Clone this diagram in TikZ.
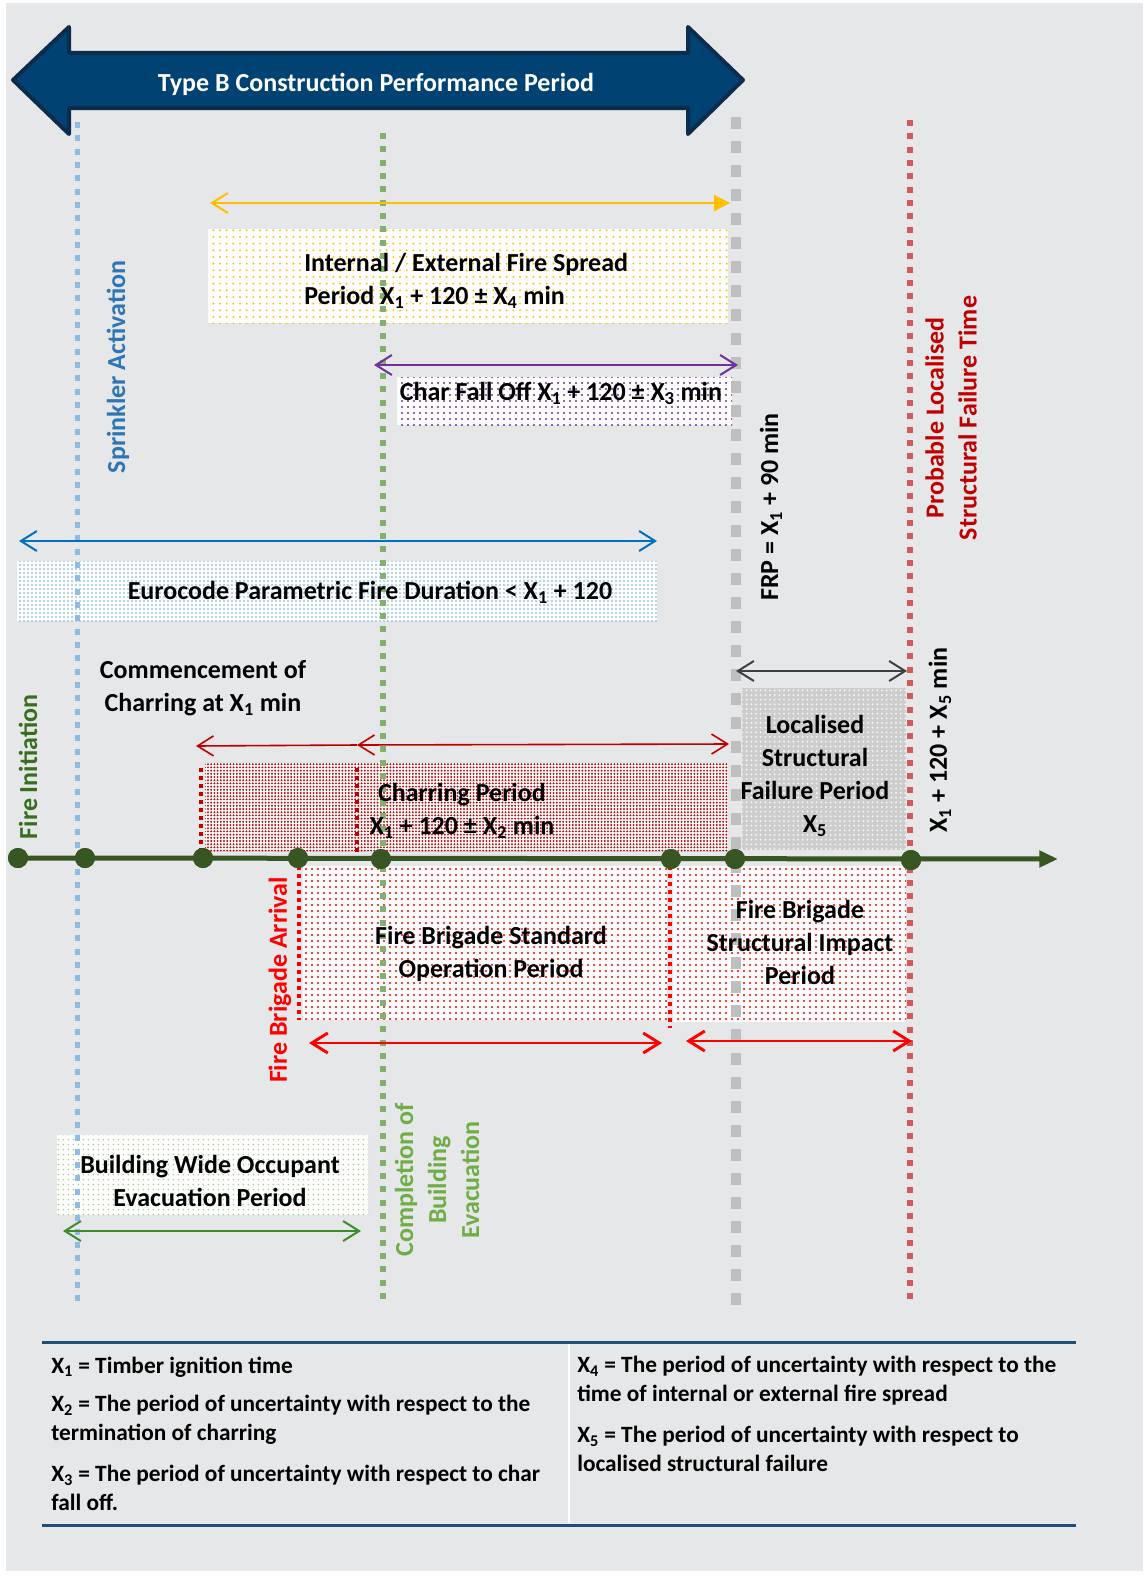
\documentclass[tikz,border=0pt]{standalone}
\usepackage{fontspec}
\setmainfont{Carlito}
\usetikzlibrary{arrows.meta,patterns.meta}
\definecolor{bggrey}{RGB}{230,231,233}
\definecolor{bandblue}{RGB}{0,66,114}
\definecolor{banddark}{RGB}{12,44,78}
\definecolor{sprblue}{RGB}{143,188,224}
\definecolor{evacgreen}{RGB}{130,176,110}
\definecolor{frpgrey}{RGB}{191,191,191}
\definecolor{failred}{RGB}{210,90,90}
\definecolor{spreadyel}{RGB}{255,192,0}
\definecolor{charpurp}{RGB}{112,48,160}
\definecolor{euroblue}{RGB}{0,112,192}
\definecolor{eurodots}{RGB}{157,195,230}
\definecolor{charred}{RGB}{192,0,0}
\definecolor{fbred}{RGB}{255,0,0}
\definecolor{lineGreen}{RGB}{55,86,35}
\definecolor{occgreen}{RGB}{60,140,44}
\definecolor{occdots}{RGB}{169,209,142}
\definecolor{legblue}{RGB}{31,78,121}
\newcommand{\xs}[1]{X\textsubscript{#1}}
\begin{document}
\begin{tikzpicture}[x=0.75pt,y=0.75pt,yscale=-1,xscale=1,
  font=\bfseries\fontsize{19.5}{24.75}\selectfont,
  dblbarb/.style={arrows={Straight Barb[length=12pt,width=15pt]-Straight Barb[length=12pt,width=15pt]}},
  dotbox/.style 2 args={fill=white,postaction={pattern={Dots[distance=#2,radius=0.8pt]},pattern color=#1}},
  vlabel/.style={rotate=90,align=center,inner sep=0.75pt},
  tdot/.style={circle,fill=lineGreen,inner sep=0pt,minimum size=15pt},
  legtext/.style={anchor=west,align=left,inner sep=0.75pt,font=\bfseries\fontsize{17.5}{21.75}\selectfont}]
\useasboundingbox (0,0) rectangle (1143,1577);
%Shape: Rectangle [background]
\fill[bggrey] (6,3) rectangle (1143,1571);

%Shape: Double Arrow [performance period]
\draw[fill=bandblue,draw=banddark,line width=3pt,line join=round] (13,80) -- (69,27) -- (69,53) -- (688,53) -- (688,27) -- (743,80) -- (688,134) -- (688,108) -- (69,108) -- (69,134) -- cycle;

%Shape: Rectangle [spread, char fall off, eurocode]
\path[dotbox={spreadyel}{5pt}] (208,229) rectangle (728,323);
\path[dotbox={charpurp}{4.5pt}] (397,377) rectangle (732,425);
\path[dotbox={eurodots}{3pt}] (17,561) rectangle (657,621);
%Shape: Rectangle [charring, failure]
\path[dotbox={charred}{2.4pt}] (205,763) rectangle (728,851);
\path[fill={rgb,255:red,205;green,205;blue,205},postaction={pattern={Dots[distance=3.5pt,radius=0.8pt]},pattern color=white!85!frpgrey}] (742,688) rectangle (906,850);
%Shape: Rectangle [fire brigade]
\path[dotbox={fbred}{4.5pt}] (303,866) rectangle (667,1020);
\path[dotbox={fbred}{4.5pt}] (673,866) rectangle (906,1022);
%Shape: Rectangle [occupant evacuation]
\path[dotbox={occdots}{4pt}] (57,1135) rectangle (368,1215);

%Straight Lines [event verticals]
\draw[sprblue,line width=3.75pt,dash pattern={on 4.5pt off 5.5pt}] (77,122) -- (77,1305);
\draw[evacgreen,line width=4.5pt,dash pattern={on 4.5pt off 5.5pt}] (383,133) -- (383,1305);
\draw[frpgrey,line width=7.5pt,dash pattern={on 9pt off 9pt}] (736,117) -- (736,1305);
\draw[failred,line width=4.5pt,dash pattern={on 4.5pt off 5.5pt}] (910,120) -- (910,1305);
\draw[charred,line width=3pt,dash pattern={on 3pt off 3pt}] (201,768) -- (201,851);
\draw[charred,line width=2.5pt,dash pattern={on 3pt off 3pt}] (357,768) -- (357,853);
\draw[fbred,line width=3pt,dash pattern={on 3pt off 3pt}] (299,866) -- (299,1020);
\draw[fbred,line width=3pt,dash pattern={on 3pt off 3pt}] (670,866) -- (670,1028);

%Straight Lines [period arrows]
\coordinate (spreadL) at (210,203);
\coordinate (spreadR) at (730,203);
\draw[spreadyel,line width=1.5pt,arrows={Straight Barb[length=12pt,width=15pt]-Triangle[length=12pt,width=12pt]}] (spreadL) -- (spreadR);
\coordinate (fallL) at (374,365);
\coordinate (fallR) at (738,365);
\draw[charpurp,line width=1.5pt,dblbarb] (fallL) -- (fallR);
\coordinate (euroL) at (19,541);
\coordinate (euroR) at (657,541);
\draw[euroblue,line width=1.5pt,dblbarb] (euroL) -- (euroR);
\coordinate (failL) at (736,671);
\coordinate (failR) at (907,671);
\draw[black!75,line width=1.5pt,dblbarb] (failL) -- (failR);
\coordinate (charA) at (196,746);
\coordinate (charB) at (357,745);
\coordinate (charC) at (729,744);
\draw[charred,line width=1.2pt,arrows={-Straight Barb[length=12pt,width=15pt]}] (charB) -- (charA);
\draw[charred,line width=1.2pt,dblbarb] (charB) -- (charC);
\coordinate (fbsL) at (309,1043);
\coordinate (fbsR) at (662,1043);
\draw[fbred,line width=2.2pt,dblbarb] (fbsL) -- (fbsR);
\coordinate (fbiL) at (686,1041);
\coordinate (fbiR) at (912,1041);
\draw[fbred,line width=2.2pt,dblbarb] (fbiL) -- (fbiR);
\coordinate (occL) at (63,1231);
\coordinate (occR) at (361,1231);
\draw[occgreen,line width=1.5pt,dblbarb] (occL) -- (occR);

%Straight Lines [time line]
\coordinate (tEnd) at (1058,859);
\node[tdot] (d0) at (18,858) {};
\node[tdot] (d1) at (85,858) {};
\node[tdot] (d2) at (203,858) {};
\node[tdot] (d3) at (298,858) {};
\node[tdot] (d4) at (381,859) {};
\node[tdot] (d5) at (671,859) {};
\node[tdot] (d6) at (735,859) {};
\node[tdot] (d7) at (911,860) {};
\draw[lineGreen,line width=3.75pt,arrows={-Triangle[length=14pt,width=12pt]}] (d0.center) -- (tEnd);
\foreach \d in {d0,d1,d2,d3,d4,d5,d6,d7} \fill[lineGreen] (\d) circle (10);

% Text Node
\node[white] (title) at (376,84) {Type B Construction Performance Period};
% Text Node
\node[anchor=west,align=left,inner sep=0.75pt] (spread) at (303,281) {Internal / External Fire Spread\\Period \xs{1} + 120 ± \xs{4} min};
% Text Node
\node[inner sep=0.75pt] (falloff) at (561,393) {Char Fall Off \xs{1} + 120 ± \xs{3} min};
% Text Node
\node[inner sep=0.75pt] (euro) at (370,592) {Eurocode Parametric Fire Duration < \xs{1} + 120};
% Text Node
\node[align=center,inner sep=0.75pt] (commence) at (203,688) {Commencement of\\Charring at \xs{1} min};
% Text Node
\node[align=center,inner sep=0.75pt] (charring) at (462,811) {Charring Period\\\xs{1} + 120 ± \xs{2} min};
% Text Node
\node[align=center,inner sep=0.75pt] (failure) at (815,776) {Localised\\Structural\\Failure Period\\\xs{5}};
% Text Node
\node[align=center,inner sep=0.75pt] (fbstd) at (491,954) {Fire Brigade Standard\\Operation Period};
% Text Node
\node[align=center,inner sep=0.75pt] (fbimp) at (800,942) {Fire Brigade\\Structural Impact\\Period};
% Text Node
\node[align=center,inner sep=0.75pt] (occupant) at (210,1181) {Building Wide Occupant\\Evacuation Period};

% Text Node [vertical labels]
\node[vlabel,color={rgb,255:red,46;green,117;blue,182}] (sprinkler) at (118,367) {Sprinkler Activation};
\node[vlabel,color={rgb,255:red,56;green,110;blue,32}] (initiation) at (28,767) {Fire Initiation};
\node[vlabel,fbred] (arrival) at (280,980) {Fire Brigade Arrival};
\node[vlabel,color={rgb,255:red,112;green,173;blue,71}] (evacdone) at (437,1180) {Completion of\\Building\\Evacuation};
\node[vlabel] (frp) at (771,507) {FRP = \xs{1} + 90 min};
\node[vlabel,charred] (probable) at (951,418) {Probable Localised\\Structural Failure Time};
\node[vlabel] (failtime) at (940,740) {\xs{1} + 120 + \xs{5} min};

%Straight Lines [legend frame]
\draw[legblue,line width=2.25pt] (42,1342) -- (1076,1342);
\draw[legblue,line width=2.25pt] (42,1525) -- (1076,1525);
\draw[white,line width=1.2pt] (569,1344) -- (569,1523);
% Text Node
\node[legtext] (leg1) at (50,1367) {\xs{1} = Timber ignition time};
\node[legtext] (leg2) at (50,1420) {\xs{2} = The period of uncertainty with respect to the\\termination of charring};
\node[legtext] (leg3) at (50,1488) {\xs{3} = The period of uncertainty with respect to char\\fall off.};
\node[legtext] (leg4) at (576,1381) {\xs{4} = The period of uncertainty with respect to the\\time of internal or external fire spread};
\node[legtext] (leg5) at (576,1449) {\xs{5} = The period of uncertainty with respect to\\localised structural failure};
\end{tikzpicture}
\end{document}
